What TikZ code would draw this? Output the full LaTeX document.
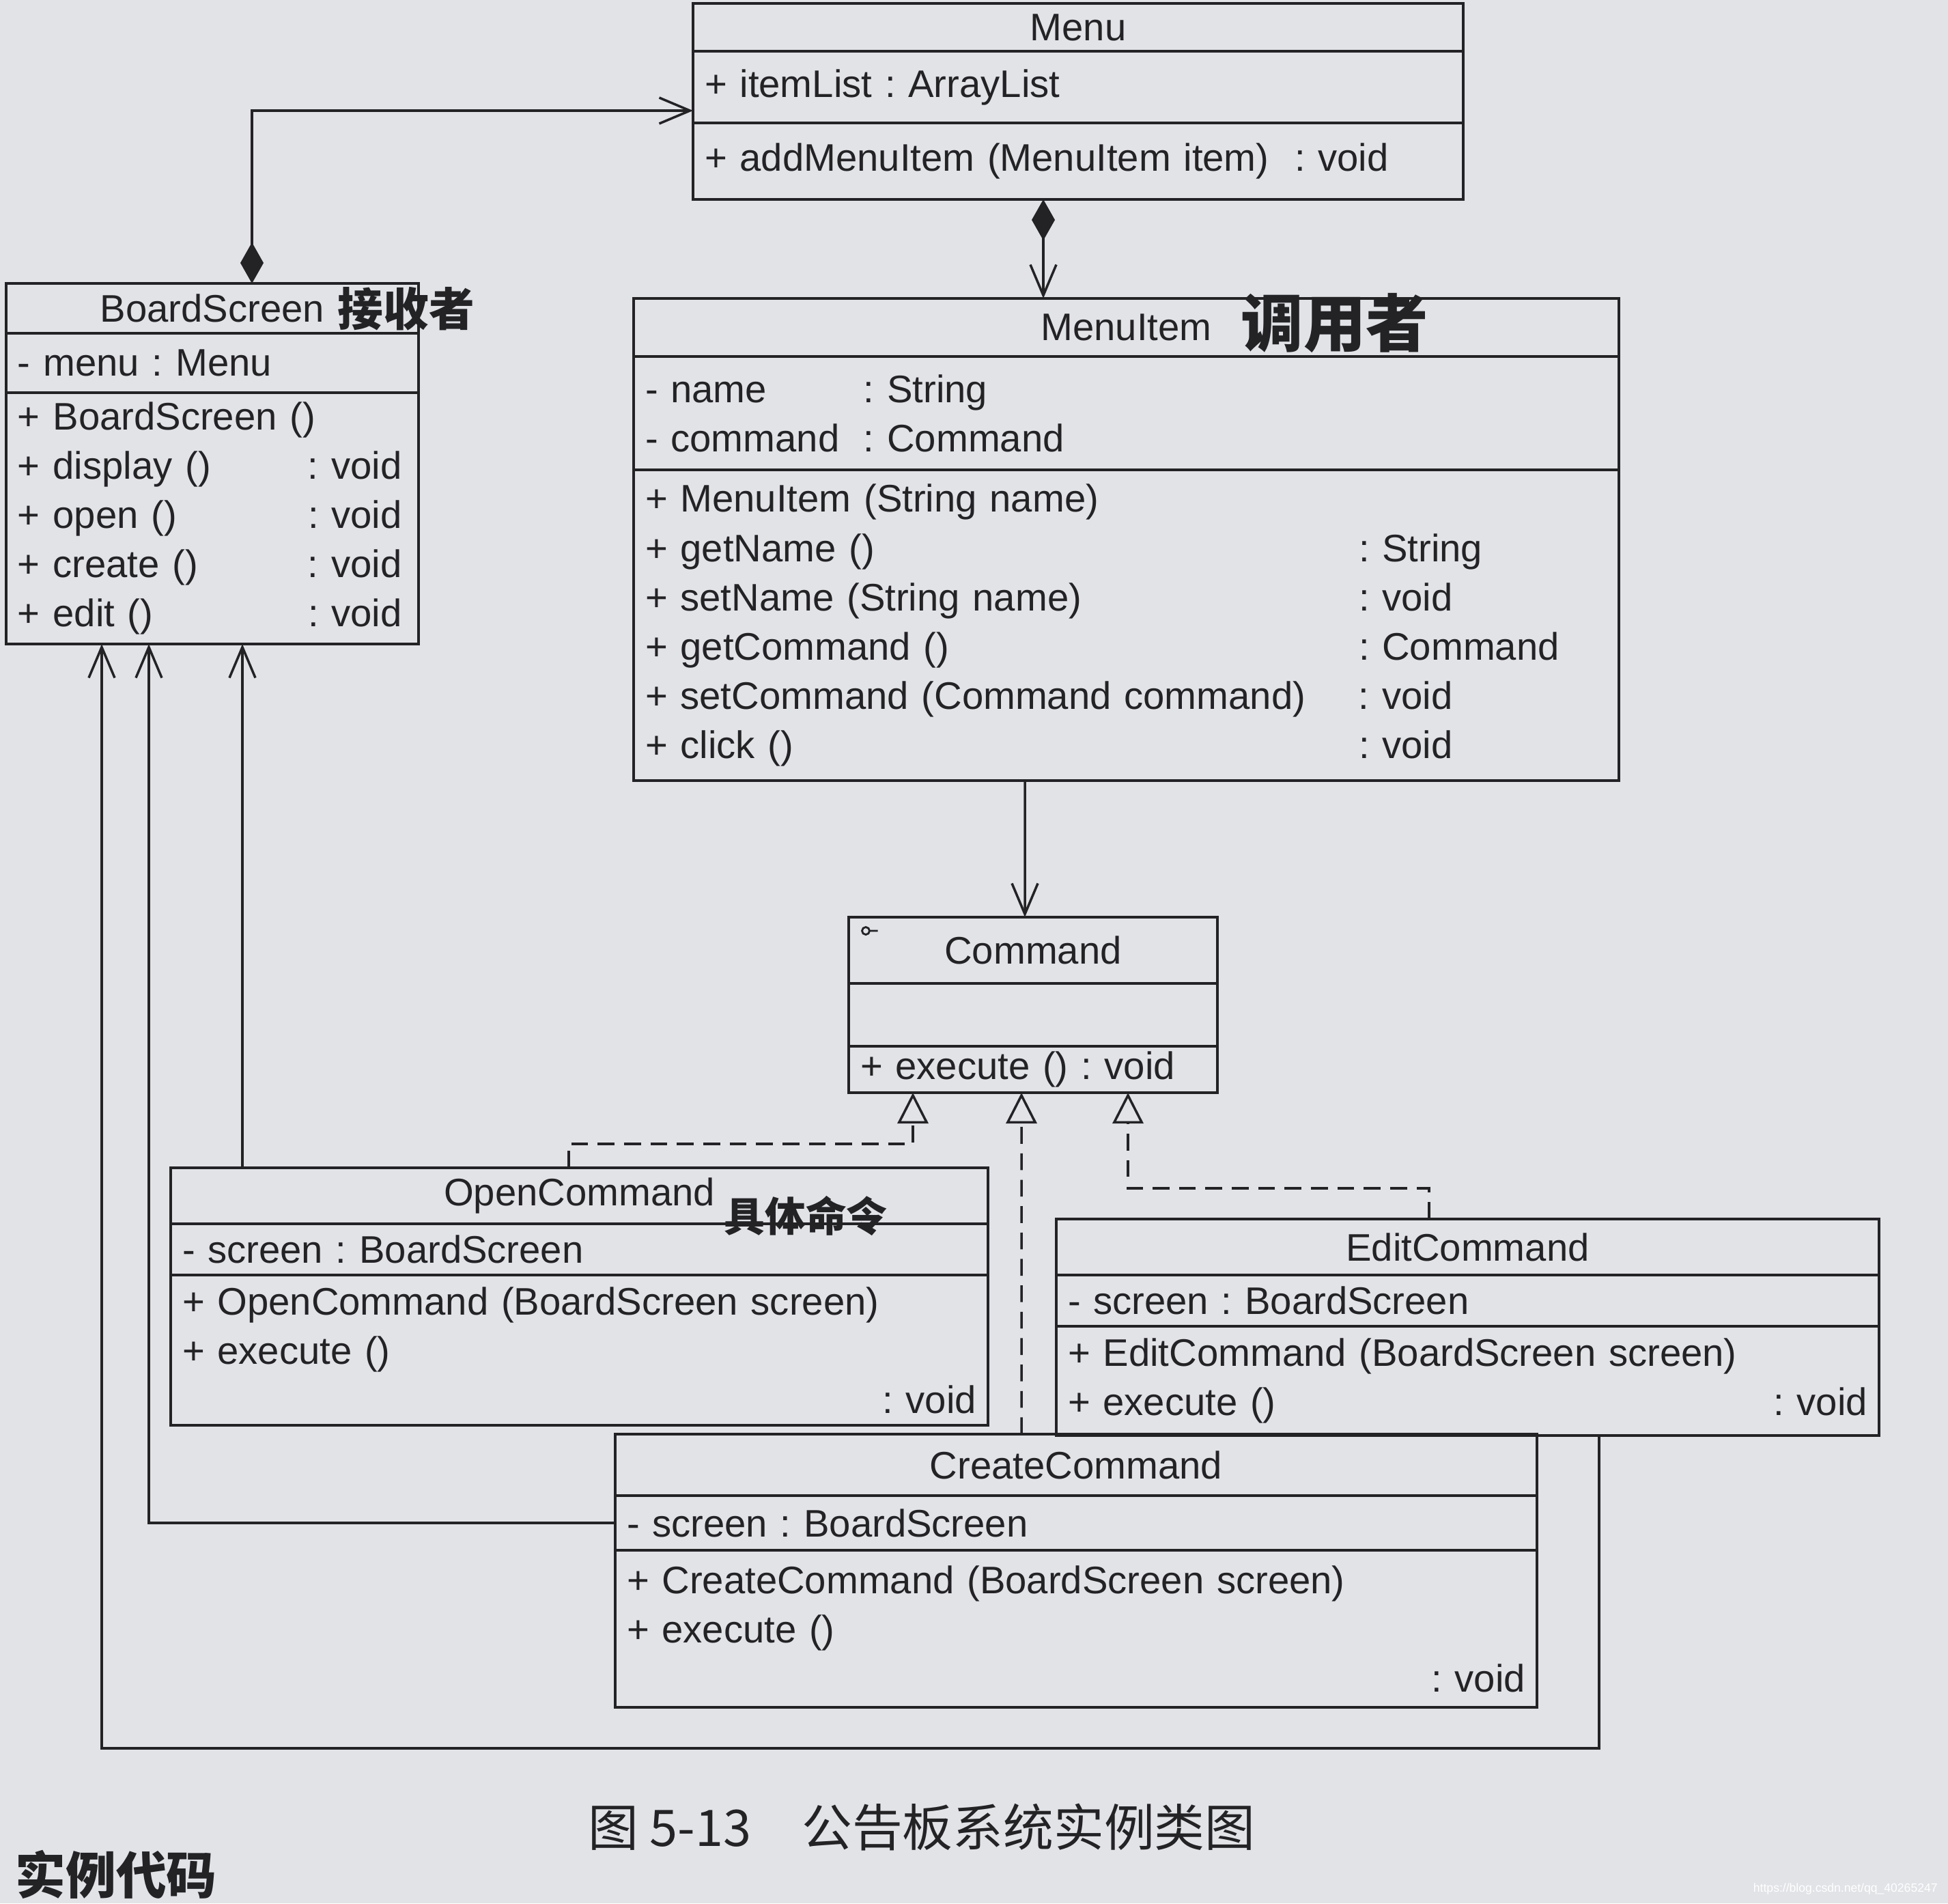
\documentclass[tikz,border=0pt]{standalone}
\usepackage{fontspec}
\setmainfont{Liberation Sans}
\newfontfamily\umlfont{Liberation Sans}
\newfontfamily\cjkfont{Noto Sans CJK SC}
\usetikzlibrary{arrows.meta, positioning}
\definecolor{paper}{RGB}{226,227,231}
\definecolor{ink}{RGB}{35,35,38}
\tikzset{
    cls/.style={draw=ink, line width=1pt, outer sep=0pt, inner xsep=0.17cm, inner ysep=0pt, text=ink, font=\umlfont\frenchspacing\fontsize{16}{20.5}\selectfont},
    clsname/.style={cls, anchor=north west, align=center},
    clspart/.style={cls, align=left},
    assoc/.style={draw=ink, line width=1pt, -{Straight Barb[length=4.5mm, width=3.8mm]}},
    compo/.style={draw=ink, line width=1pt, {Diamond[length=6mm, width=3.4mm]}-{Straight Barb[length=4.5mm, width=3.8mm]}},
    realize/.style={draw=ink, line width=1pt, dash pattern=on 7pt off 4pt, -{Triangle[open, length=4.5mm, width=4.5mm]}},
    hand/.style={text=ink, font=\cjkfont\bfseries\fontsize{#1}{#1}\selectfont},
    caption/.style={text=ink, font=\cjkfont\fontsize{21}{24}\selectfont}
}

\begin{document}
\begin{tikzpicture}
% Bulletin board example: Command pattern class diagram.
  \useasboundingbox (0,0) rectangle (28.53,-27.87);
  \fill[paper] (0,0) rectangle (28.53,-27.87);

  \node[clsname, text width=10.94cm, minimum height=0.70cm] (menu) at (10.15,-0.05) {Menu};
  \node[clspart, below=0pt of menu, text width=10.94cm, minimum height=1.05cm] (menu-attr) {+ itemList : ArrayList};
  \node[clspart, below=0pt of menu-attr, text width=10.94cm, minimum height=1.12cm] (menu-ops) {+ addMenuItem (MenuItem item)\ \ : void};

  \node[clsname, text width=5.70cm, minimum height=0.73cm] (bs) at (0.09,-4.15) {BoardScreen};
  \node[clspart, below=0pt of bs, text width=5.70cm, minimum height=0.87cm] (bs-attr) {- menu : Menu};
  \node[clspart, below=0pt of bs-attr, text width=5.70cm, minimum height=3.68cm] (bs-ops) {+ BoardScreen ()\\
    \makebox[4.25cm][l]{+ display ()}:~void\\
    \makebox[4.25cm][l]{+ open ()}:~void\\
    \makebox[4.25cm][l]{+ create ()}:~void\\
    \makebox[4.25cm][l]{+ edit ()}:~void};

  \node[clsname, text width=14.09cm, minimum height=0.85cm] (item) at (9.28,-4.37) {MenuItem};
  \node[clspart, below=0pt of item, text width=14.09cm, minimum height=1.66cm] (item-attr) {\makebox[3.2cm][l]{- name}: String\\
    \makebox[3.2cm][l]{- command}: Command};
  \node[clspart, below=0pt of item-attr, text width=14.09cm, minimum height=4.55cm] (item-ops) {+ MenuItem (String name)\\
    \makebox[10.45cm][l]{+ getName ()}: String\\
    \makebox[10.45cm][l]{+ setName (String name)}: void\\
    \makebox[10.45cm][l]{+ getCommand ()}: Command\\
    \makebox[10.45cm][l]{+ setCommand (Command command)}: void\\
    \makebox[10.45cm][l]{+ click ()}: void};

  \node[clsname, text width=5.06cm, minimum height=0.97cm] (cmd) at (12.43,-13.43) {Command};
  \node[clspart, below=0pt of cmd, text width=5.06cm, minimum height=0.92cm] (cmd-attr) {};
  \node[clspart, below=0pt of cmd-attr, text width=5.06cm, minimum height=0.68cm] (cmd-ops) {+ execute () : void};
  \draw[ink, line width=0.8pt] ([xshift=0.25cm, yshift=-0.2cm]cmd.north west) circle (0.055cm) ++(0.055,0) -- ++(0.12,0);

  \node[clsname, text width=11.63cm, minimum height=0.82cm] (open) at (2.50,-17.10) {OpenCommand};
  \node[clspart, below=0pt of open, text width=11.63cm, minimum height=0.75cm] (open-attr) {- screen : BoardScreen};
  \node[clspart, below=0pt of open-attr, text width=11.63cm, minimum height=2.20cm] (open-ops) {+ OpenCommand (BoardScreen screen)\\
    + execute ()\\
    \hfill : void};

  \node[clsname, text width=11.71cm, minimum height=0.82cm] (edit) at (15.47,-17.85) {EditCommand};
  \node[clspart, below=0pt of edit, text width=11.71cm, minimum height=0.75cm] (edit-attr) {- screen : BoardScreen};
  \node[clspart, below=0pt of edit-attr, text width=11.71cm, minimum height=1.60cm] (edit-ops) {+ EditCommand (BoardScreen screen)\\
    + execute () \hfill : void};

  \node[clsname, text width=13.16cm, minimum height=0.90cm] (create) at (9.01,-21.00) {CreateCommand};
  \node[clspart, below=0pt of create, text width=13.16cm, minimum height=0.80cm] (create-attr) {- screen : BoardScreen};
  \node[clspart, below=0pt of create-attr, text width=13.16cm, minimum height=2.30cm] (create-ops) {+ CreateCommand (BoardScreen screen)\\
    + execute ()\\
    \hfill : void};

  \draw[compo] ([xshift=3.60cm]bs.north west) |- ([yshift=0.18cm]menu-attr.south west);
  \draw[compo] ([xshift=5.13cm]menu-ops.south west) -- ([xshift=6.00cm]item.north west);
  \draw[assoc] ([xshift=5.73cm]item-ops.south west) -- ([xshift=2.58cm]cmd.north west);

  \draw[realize] ([xshift=5.83cm]open.north west) -- ++(0,0.35) -| ([xshift=0.94cm]cmd-ops.south west);
  \draw[realize] ([xshift=5.95cm]create.north west) -- ([xshift=2.53cm]cmd-ops.south west);
  \draw[realize] ([xshift=5.46cm]edit.north west) -- ++(0,0.45) -| ([xshift=4.09cm]cmd-ops.south west);

  \draw[assoc] ([xshift=1.05cm]open.north west) -- ([xshift=3.46cm]bs-ops.south west);
  \draw[assoc] (create-attr.west) -| ([xshift=2.09cm]bs-ops.south west);
  \draw[assoc] ([xshift=7.95cm]edit-ops.south west) -- ++(0,-4.58) -| ([xshift=1.40cm]bs-ops.south west);

  \node[hand=19] (note-recv) at (5.95,-4.52) {接收者};
  \node[hand=26] (note-call) at (19.55,-4.73) {调用者};
  \node[hand=17] (note-cmd) at (11.8,-17.8) {具体命令};

  \node[caption] (fig-cap) at (13.5,-26.75) {图 5-13\quad 公告板系统实例类图};
  \node[caption, anchor=west, font=\cjkfont\bfseries\fontsize{21}{24}\selectfont] (code-head) at (0.1,-27.45) {实例代码};
  \node[anchor=east, text=white, font=\umlfont\fontsize{5}{6}\selectfont] (csdn) at (28.5,-27.66) {https://blog.csdn.net/qq\_40265247};
\end{tikzpicture}
\end{document}
